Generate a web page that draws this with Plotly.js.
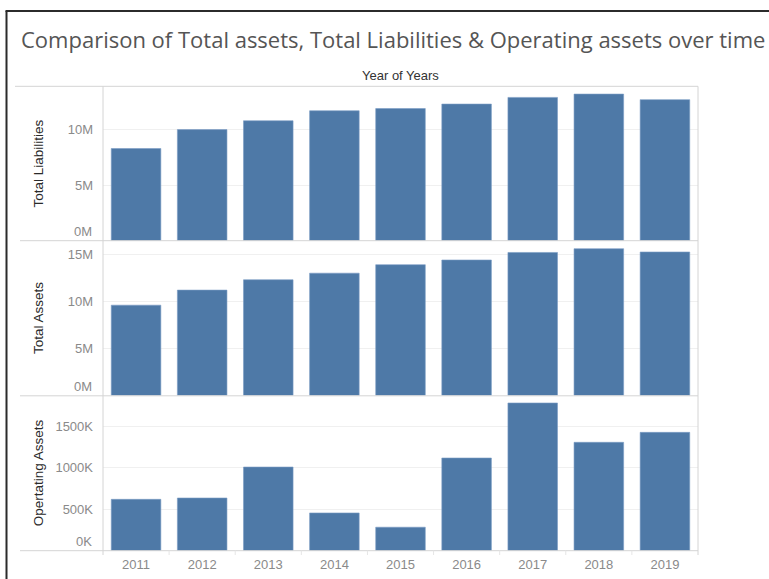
<!DOCTYPE html>
<html>
<head>
<meta charset="utf-8">
<script src="https://cdn.plot.ly/plotly-3.0.1.min.js"></script>
<style>
html,body{margin:0;padding:0;background:#fff;}
#chart{width:769px;height:579px;}
</style>
</head>
<body>
<div id="chart"></div>
<script>
// ---- data ----
const years = ['2011','2012','2013','2014','2015','2016','2017','2018','2019'];
const totalLiabilities = [8.3e6, 10.0e6, 10.8e6, 11.7e6, 11.9e6, 12.3e6, 12.9e6, 13.2e6, 12.7e6];
const totalAssets = [9.6e6, 11.2e6, 12.3e6, 13.0e6, 13.9e6, 14.4e6, 15.2e6, 15.6e6, 15.25e6];
const operatingAssets = [619e3, 635e3, 1008e3, 455e3, 283e3, 1117e3, 1780e3, 1306e3, 1426e3];

const liabTickVals = [5e6, 10e6];
const liabTickText = ['5M', '10M'];
const assetTickVals = [5e6, 10e6, 15e6];
const assetTickText = ['5M', '10M', '15M'];
const opTickVals = [500e3, 1000e3, 1500e3];
const opTickText = ['500K', '1000K', '1500K'];

// ---- layout helpers (pixel -> paper) ----
const W = 769, H = 579;
const px = x => x / W;
const py = y => 1 - y / H;

const barColor = '#4e79a7';
const tickColor = '#8a8a8a';
const lineColor = '#d4d4d4';
const gridColor = '#f0f0f0';
const font = '"Liberation Sans", Arial, sans-serif';

const xL = 103, xR = 698;
const p1 = [86.3, 240.7], p2 = [240.7, 395.5], p3 = [396, 550.7];

function bar(y, yaxis) {
  return {
    type: 'bar', x: years, y: y, xaxis: 'x', yaxis: yaxis,
    marker: {color: barColor, line: {color: '#7a9cc4', width: 0.6}},
    hoverinfo: 'x+y'
  };
}

const data = [
  bar(totalLiabilities, 'y'),
  bar(totalAssets, 'y2'),
  bar(operatingAssets, 'y3')
];

function yax(dom, range, tv, tt) {
  return {
    domain: [py(dom[1]), py(dom[0])],
    range: range, fixedrange: true,
    tickvals: tv, ticktext: tt,
    tickfont: {family: font, size: 13, color: tickColor},
    showgrid: true, gridcolor: gridColor, gridwidth: 1,
    zeroline: false, showline: false, ticks: '',
    ticklabelstandoff: 9
  };
}

const shapes = [];
function hline(y, x0, x1, color, w) {
  shapes.push({type: 'line', xref: 'paper', yref: 'paper', x0: px(x0), x1: px(x1), y0: py(y), y1: py(y), line: {color: color, width: w || 1}});
}
function vline(x, y0, y1, color, w) {
  shapes.push({type: 'line', xref: 'paper', yref: 'paper', x0: px(x), x1: px(x), y0: py(y0), y1: py(y1), line: {color: color, width: w || 1}});
}
// panel frames
hline(86.3, 15, xR, lineColor);
hline(240.7, 20, xR, lineColor);
hline(395.8, 20, xR, lineColor);
hline(550.7, 20, xR, lineColor);
vline(xL, 86.3, 555, lineColor);
vline(xR, 86.3, 555, lineColor);
// category separators below axis
for (let k = 1; k < years.length; k++) {
  const xx = xL + (xR - xL) * k / years.length;
  vline(xx, 550.7, 555, '#e6e6e6');
}
// outer dark frame
shapes.push({type: 'line', xref: 'paper', yref: 'paper', x0: px(6.5), x1: px(6.5), y0: py(11), y1: py(600), line: {color: '#2b2b2b', width: 2}});
shapes.push({type: 'line', xref: 'paper', yref: 'paper', x0: px(5.5), x1: px(800), y0: py(11), y1: py(11), line: {color: '#2b2b2b', width: 2}});

function rowTitle(text, dom) {
  return {
    text: text, xref: 'paper', yref: 'paper',
    x: px(38), y: py((dom[0] + dom[1]) / 2),
    textangle: -90, showarrow: false,
    font: {family: font, size: 13.5, color: '#2a2a2a'},
    xanchor: 'center', yanchor: 'middle'
  };
}
function zeroLabel(text, yref) {
  return {
    text: text, xref: 'paper', yref: yref, x: px(94), y: 0,
    xanchor: 'right', yanchor: 'bottom', yshift: 0, showarrow: false,
    font: {family: font, size: 13, color: tickColor}
  };
}

const layout = {
  width: W, height: H,
  margin: {l: 0, r: 0, t: 0, b: 0},
  paper_bgcolor: '#fff', plot_bgcolor: 'rgba(0,0,0,0)',
  showlegend: false,
  bargap: 0.25,
  font: {family: font},
  title: {
    text: 'Comparison of Total assets, Total Liabilities &amp; Operating assets over time',
    x: px(21), xanchor: 'left', xref: 'paper',
    y: py(40), yanchor: 'middle', yref: 'paper',
    font: {family: '"Open Sans", sans-serif', size: 22, color: '#555'}
  },
  xaxis: {
    domain: [px(xL), px(xR)], anchor: 'y3', type: 'category',
    range: [-0.5, 8.5], fixedrange: true,
    showgrid: false, zeroline: false, showline: false, ticks: '',
    tickfont: {family: font, size: 13, color: tickColor},
    ticklabelstandoff: 4
  },
  yaxis: yax(p1, [0, 13.9e6], liabTickVals, liabTickText),
  yaxis2: yax(p2, [0, 16.45e6], assetTickVals, assetTickText),
  yaxis3: yax(p3, [0, 1864e3], opTickVals, opTickText),
  shapes: shapes,
  annotations: [
    {text: 'Year of Years', xref: 'paper', yref: 'paper', x: px((xL + xR) / 2), y: py(75),
     showarrow: false, xanchor: 'center', yanchor: 'middle',
     font: {family: font, size: 13, color: '#333'}},
    rowTitle('Total Liabilities', p1),
    rowTitle('Total Assets', p2),
    rowTitle('Opertating Assets', p3),
    zeroLabel('0M', 'y'),
    zeroLabel('0M', 'y2'),
    zeroLabel('0K', 'y3')
  ]
};

Plotly.newPlot('chart', data, layout, {displayModeBar: false, staticPlot: true});
</script>
</body>
</html>
